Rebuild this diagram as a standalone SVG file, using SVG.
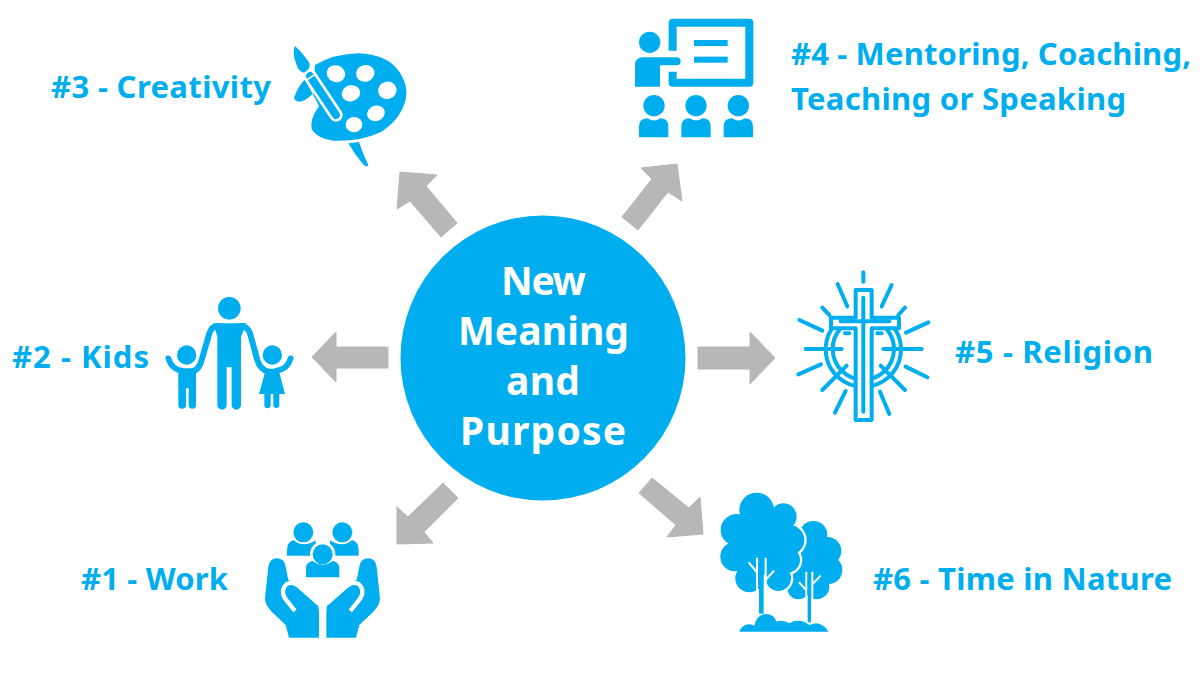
<svg xmlns="http://www.w3.org/2000/svg" width="1200" height="675" viewBox="0 0 1200 675">
<style>
.b{fill:#00aeef}.w{fill:#fff}
.l{fill:#00aeef;font:700 31px "Noto Sans","Open Sans",sans-serif}
.c{fill:#fff;font:700 39px "Noto Sans","Open Sans",sans-serif;text-anchor:middle}
.s{fill:none;stroke:#00aeef;stroke-linecap:round;stroke-linejoin:round}
.g{fill:none;stroke:#fff;stroke-linecap:round;stroke-linejoin:round}
.a{fill:#b7b7b7;stroke:#b7b7b7;stroke-width:1;stroke-linejoin:round}
</style>
<rect width="1200" height="675" fill="#fff"/>
<g id="connectors">
<polygon class="a" points="312,357 336,332 336,347 388,347 388,368 336,368 336,382"/>
<polygon class="a" points="775,358 750,332 750,347 698,347 698,369 750,369 750,384"/>
<polygon class="a" points="400,172 437,175 426,186 457,223 441,237 410,201 397,209"/>
<polygon class="a" points="677,164 641,168 652,179 622,217 638,230 668,192 682,201"/>
<polygon class="a" points="397,544 433,543 424,532 458,498 443,483 408,517 397,507"/>
<polygon class="a" points="703,534 667,537 676,525 639,493 652,478 689,508 700,497"/>
</g>
<g id="center"><circle class="b" cx="543" cy="358" r="142.500"/>
<text class="c" x="543.500" y="295" textLength="85">New</text><text class="c" x="543.500" y="345" textLength="171">Meaning</text><text class="c" x="543" y="395" textLength="74">and</text><text class="c" x="543" y="445" textLength="166">Purpose</text></g>
<g id="creativity">
<text class="l" x="51" y="98" textLength="220">#3 - Creativity</text>
<g transform="translate(280 30) scale(.3333)">
<path class="b" d="M205 340L237 336Q250 375 265 405Q262 412 252 406Q225 375 205 340Z"/>
<path class="b" d="M105 105Q160 72 235 70Q320 72 358 125Q385 165 378 205Q365 265 305 305Q240 335 160 332Q110 325 95 298Q88 270 117 228L75 148Q50 175 42 205Q50 222 75 210Q90 200 100 190Z"/>
<g class="w"><ellipse cx="168" cy="131" rx="28" ry="25" transform="rotate(20 168 131)"/><ellipse cx="256" cy="130" rx="28" ry="25" transform="rotate(-15 256 130)"/><ellipse cx="213" cy="190" rx="28" ry="24" transform="rotate(-15 213 190)"/><ellipse cx="322" cy="181" rx="28" ry="26" transform="rotate(-15 322 181)"/><ellipse cx="288" cy="250" rx="27" ry="23" transform="rotate(-20 288 250)"/><ellipse cx="222" cy="284" rx="25" ry="23"/></g>
<path class="g" stroke-width="40" d="M90 138L168 255"/>
<path class="s" stroke-width="24" d="M90 138L168 255"/>
<path class="g" stroke-width="5" d="M83 148L104 134"/>
<path class="b" d="M45 48Q65 65 82 90Q100 112 72 128Q55 125 50 105Q35 70 45 48Z"/>
</g></g>
<g id="teaching">
<text class="l" x="791" y="65" textLength="400">#4 - Mentoring, Coaching,</text>
<text class="l" x="791" y="110" textLength="335">Teaching or Speaking</text>
<g transform="translate(625 10) scale(.3333)">
<path class="s" stroke-width="24" style="stroke-linecap:butt" d="M143 122V38H373V218H143V185"/>
<rect class="b" x="207" y="90" width="101" height="18"/><rect class="b" x="207" y="140" width="101" height="18"/>
<circle class="b" cx="74" cy="97" r="32"/>
<path class="b" d="M30 230V165Q30 142 55 142H155A12 12 0 0 1 155 166H105V230Z"/>
<circle class="b" cx="87" cy="287" r="32"/><path class="b" d="M42 382V350Q42 325 68 325Q87 338 106 325Q130 325 130 350V382Z"/>
<circle class="b" cx="213" cy="287" r="32"/><path class="b" d="M169 382V350Q169 325 195 325Q213 338 232 325Q257 325 257 350V382Z"/>
<circle class="b" cx="340" cy="287" r="32"/><path class="b" d="M296 382V350Q296 325 322 325Q340 338 359 325Q384 325 384 350V382Z"/>
</g></g>
<g id="religion">
<text class="l" x="955" y="363" textLength="198">#5 - Religion</text>
<g transform="translate(790 265) scale(.3333)" class="s" stroke-width="12">
<path d="M126 190A113 113 0 1 0 314 190M152 190A92 92 0 1 0 288 190"/>
<path d="M220 22V50M143 57L172 124M305 60L275 124M97 128L118 150M345 128L325 150M28 165L97 197M415 172L348 203M47 252H155M395 252H280M25 328L93 298M412 337L347 305M97 375L170 302M345 375L272 302M135 443L167 378M298 447L270 380M165 205L178 205M262 205L275 205"/>
<path fill="#fff" d="M197 75H245V158H327V190H245V465H197V190H123V158H197Z"/>
<path d="M220 98V440M152 169H298"/>
</g></g>
<g id="nature">
<text class="l" x="873" y="590" textLength="299">#6 - Time in Nature</text>
<g transform="translate(710 485) scale(.3333)">
<g class="b"><circle cx="310" cy="150" r="42"/><circle cx="352" cy="198" r="42"/><circle cx="355" cy="255" r="42"/><circle cx="320" cy="305" r="38"/><circle cx="265" cy="310" r="33"/><circle cx="300" cy="240" r="70"/></g>
<g class="w" stroke="#fff" stroke-width="14"><circle cx="140" cy="75" r="52"/><circle cx="220" cy="95" r="40"/><circle cx="80" cy="135" r="48"/><circle cx="238" cy="165" r="45"/><circle cx="75" cy="215" r="44"/><circle cx="232" cy="225" r="38"/><circle cx="118" cy="280" r="42"/><circle cx="205" cy="280" r="38"/><circle cx="150" cy="180" r="90"/></g>
<g class="b"><circle cx="140" cy="75" r="52"/><circle cx="220" cy="95" r="40"/><circle cx="80" cy="135" r="48"/><circle cx="238" cy="165" r="45"/><circle cx="75" cy="215" r="44"/><circle cx="232" cy="225" r="38"/><circle cx="118" cy="280" r="42"/><circle cx="205" cy="280" r="38"/><circle cx="150" cy="180" r="90"/></g>
<path class="g" stroke-width="6" style="stroke-linecap:butt" d="M141 218V325M167 218V325M116 232L141 262M192 257L167 285M289 260V345M307 260V345M267 292L289 316M332 272L307 298"/>
<rect class="b" x="147" y="218" width="14" height="168"/><rect class="b" x="293" y="260" width="10" height="152"/>
<path class="b" d="M88 440Q95 420 115 418Q125 418 133 422Q140 388 168 387Q192 388 200 410Q218 402 238 415Q260 402 285 412Q295 418 300 420Q320 410 335 420Q350 428 355 440Z"/>
</g></g>
<g id="kids">
<text class="l" x="12" y="368" textLength="137">#2 - Kids</text>
<g transform="translate(160 290) scale(.3333)">
<circle class="b" cx="208" cy="55" r="34"/>
<path class="b" d="M172 140V345A13 13 0 0 0 200 345V232H215V345A13 13 0 0 0 243 345V140L260 100H160Z"/>
<path class="s" stroke-width="18" d="M175 108Q155 108 148 130L125 210Q118 240 95 245"/>
<path class="s" stroke-width="18" d="M240 108Q262 108 270 130L292 210Q300 238 325 245"/>
<circle class="b" cx="80" cy="195" r="29"/>
<path class="b" d="M55 235H108V345A10 10 0 0 1 86 345V295H78V345A10 10 0 0 1 55 345Z"/>
<path class="s" stroke-width="17" d="M25 205Q35 238 65 242"/>
<circle class="b" cx="337" cy="195" r="29"/>
<path class="b" d="M318 236H355L375 312H358V345A9 9 0 0 1 340 345V312H332V345A9 9 0 0 1 313 345V312H297Z"/>
<path class="s" stroke-width="17" d="M392 205Q382 238 350 242"/>
</g></g>
<g id="work">
<text class="l" x="81" y="590" textLength="147">#1 - Work</text>
<g transform="translate(255 515) scale(.3333)">
<circle class="b" cx="145" cy="52" r="30"/><circle class="b" cx="262" cy="52" r="30"/>
<path class="b" d="M96 122V105Q96 82 115 75Q145 100 182 76V122Z"/>
<path class="b" d="M311 122V105Q311 82 292 75Q262 100 225 76V122Z"/>
<g class="w"><circle cx="203" cy="118" r="38"/><path d="M143 197V150H263V197Z"/></g>
<circle class="b" cx="203" cy="118" r="30"/>
<path class="b" d="M153 187V160Q153 142 172 138Q203 160 234 138Q253 142 253 160V187Z"/>
<path class="b" d="M40 155Q45 130 65 130Q88 130 92 155L100 195L135 215Q170 245 185 265Q192 275 192 290V368H102L92 330L50 290Q30 270 30 250Z"/>
<path class="g" stroke-width="13" style="stroke-linecap:butt" d="M120 288L90 250Q75 225 95 207Q110 198 130 212L190 265"/>
<path class="b" d="M365 155Q360 130 340 130Q317 130 313 155L305 195L270 215Q235 245 220 265Q214 275 214 290V368H303L313 330L355 290Q375 270 375 250Z"/>
<path class="g" stroke-width="13" style="stroke-linecap:butt" d="M286 288L316 250Q331 225 311 207Q296 198 276 212L216 265"/>
</g></g>
</svg>
